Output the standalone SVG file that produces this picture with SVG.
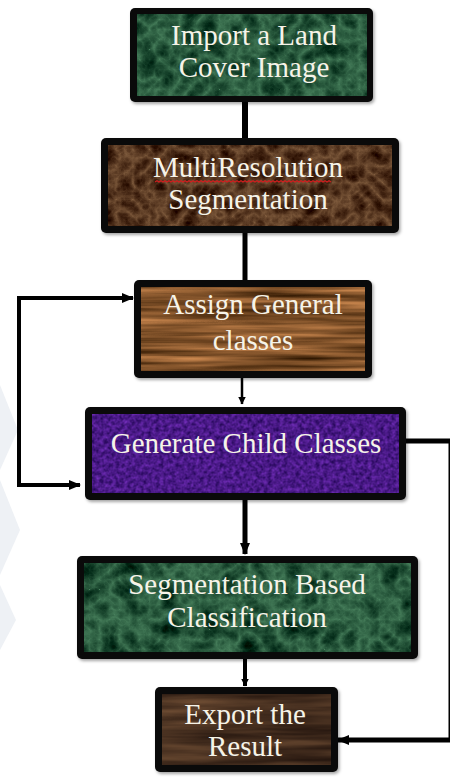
<svg xmlns="http://www.w3.org/2000/svg" width="450" height="777" viewBox="0 0 450 777">
<style>
.frame{fill:#0a0a0a;filter:url(#shadow)}
.lbl{font-family:"Liberation Serif","Times New Roman",serif;font-size:29px;fill:#f6f3e8;text-anchor:middle}
.conn{fill:none;stroke:#000;stroke-linejoin:miter}
filter{color-interpolation-filters:sRGB}
</style>
<defs>
<filter id="shadow" x="-10%" y="-10%" width="125%" height="130%" color-interpolation-filters="sRGB">
<feDropShadow dx="1.5" dy="2" stdDeviation="1.5" flood-color="#000" flood-opacity="0.35"/>
</filter>
<filter id="tGreen" x="0" y="0" width="100%" height="100%" color-interpolation-filters="sRGB">
<feTurbulence type="turbulence" baseFrequency="0.05" numOctaves="4" seed="7" result="n"/>
<feColorMatrix in="n" type="matrix" values="-0.4 0 0 0 0.28  -0.5 0 0 0 0.5  -0.4 0 0 0 0.36  0 0 0 0 1" result="c"/>
<feComposite in="c" in2="SourceAlpha" operator="in"/>
</filter>
<filter id="tBrown" x="0" y="0" width="100%" height="100%" color-interpolation-filters="sRGB">
<feTurbulence type="turbulence" baseFrequency="0.06" numOctaves="4" seed="11" result="n"/>
<feColorMatrix in="n" type="matrix" values="-0.5 0 0 0 0.5  -0.45 0 0 0 0.36  -0.35 0 0 0 0.24  0 0 0 0 1" result="c"/>
<feComposite in="c" in2="SourceAlpha" operator="in"/>
</filter>
<filter id="tWood" x="0" y="0" width="100%" height="100%" color-interpolation-filters="sRGB">
<feTurbulence type="fractalNoise" baseFrequency="0.006 0.16" numOctaves="3" seed="4" result="n"/>
<feColorMatrix in="n" type="matrix" values="0.9 0 0 0 0.06  0.65 0 0 0 0  0.45 0 0 0 -0.06  0 0 0 0 1" result="c"/>
<feComposite in="c" in2="SourceAlpha" operator="in"/>
</filter>
<filter id="tPurple" x="0" y="0" width="100%" height="100%" color-interpolation-filters="sRGB">
<feTurbulence type="fractalNoise" baseFrequency="0.25" numOctaves="3" seed="2" result="n"/>
<feColorMatrix in="n" type="matrix" values="0.4 0 0 0 0.09  0.2 0 0 0 0  0.5 0 0 0 0.28  0 0 0 0 1" result="c"/>
<feComposite in="c" in2="SourceAlpha" operator="in"/>
</filter>
<filter id="tDark" x="0" y="0" width="100%" height="100%" color-interpolation-filters="sRGB">
<feTurbulence type="fractalNoise" baseFrequency="0.008 0.12" numOctaves="3" seed="9" result="n"/>
<feColorMatrix in="n" type="matrix" values="0.4 0 0 0 0.07  0.3 0 0 0 0.03  0.2 0 0 0 0.02  0 0 0 0 1" result="c"/>
<feComposite in="c" in2="SourceAlpha" operator="in"/>
</filter>
<marker id="ah" viewBox="0 0 12 10" refX="11" refY="5" markerWidth="12" markerHeight="10" markerUnits="userSpaceOnUse" orient="auto-start-reverse">
<path d="M0,0 L12,5 L0,10 Z" fill="#000"/>
</marker>
<marker id="ahs" viewBox="0 0 8 8" refX="7.5" refY="4" markerWidth="8" markerHeight="8" markerUnits="userSpaceOnUse" orient="auto">
<path d="M0,0 L8,4 L0,8 Z" fill="#000"/>
</marker>
</defs>
<rect width="450" height="777" fill="#ffffff"/>
<g id="watermark" fill="#eef1f5">
<polygon points="0,385 18,430 0,470"/>
<polygon points="0,480 20,530 0,575"/>
<polygon points="0,585 16,620 0,650"/>
</g>
<g id="connectors">
<line class="conn" x1="245" y1="100" x2="245" y2="140" stroke-width="6"/>
<line class="conn" x1="245" y1="231" x2="245" y2="282" stroke-width="5"/>
<line class="conn" x1="242" y1="376" x2="242" y2="404" stroke-width="2.5" marker-end="url(#ahs)"/>
<path class="conn" d="M133,298 H19 V485 H80" stroke-width="4" marker-start="url(#ah)" marker-end="url(#ah)"/>
<path class="conn" d="M406,441 H451 V740 H338" stroke-width="5" marker-end="url(#ah)"/>
<line class="conn" x1="245" y1="498" x2="245" y2="554" stroke-width="5" marker-end="url(#ah)"/>
<line class="conn" x1="245" y1="657" x2="245" y2="686" stroke-width="4" marker-end="url(#ahs)"/>
</g>
<g id="n1">
<rect class="frame" x="130" y="8" width="243" height="94" rx="5"/>
<rect x="137" y="14" width="230" height="82" fill="#2a6a44" filter="url(#tGreen)"/>
<text class="lbl" x="254" y="45">Import a Land</text>
<text class="lbl" x="254" y="77">Cover Image</text>
</g>
<g id="n2">
<rect class="frame" x="101" y="138" width="298" height="95" rx="5"/>
<rect x="108" y="145" width="284" height="81" fill="#6a4428" filter="url(#tBrown)"/>
<text class="lbl" x="248" y="177">MultiResolution</text>
<path d="M155,182 l2,-1.2 2,1.2 2,-1.2 2,1.2 2,-1.2 2,1.2 2,-1.2 2,1.2 2,-1.2 2,1.2 2,-1.2 2,1.2 2,-1.2 2,1.2 2,-1.2 2,1.2 2,-1.2 2,1.2 2,-1.2 2,1.2 2,-1.2 2,1.2 2,-1.2 2,1.2 2,-1.2 2,1.2 2,-1.2 2,1.2 2,-1.2 2,1.2 2,-1.2 2,1.2 2,-1.2 2,1.2 2,-1.2 2,1.2 2,-1.2 2,1.2 2,-1.2 2,1.2 2,-1.2 2,1.2 2,-1.2 2,1.2 2,-1.2 2,1.2 2,-1.2 2,1.2 2,-1.2 2,1.2 2,-1.2 2,1.2 2,-1.2 2,1.2 2,-1.2 2,1.2 2,-1.2 2,1.2 2,-1.2 2,1.2 2,-1.2 2,1.2 2,-1.2 2,1.2 2,-1.2 2,1.2 2,-1.2 2,1.2 2,-1.2 2,1.2 2,-1.2 2,1.2 2,-1.2 2,1.2 2,-1.2 2,1.2 2,-1.2 2,1.2 2,-1.2 2,1.2 2,-1.2 2,1.2 2,-1.2 2,1.2 2,-1.2 2,1.2 2,-1.2 2,1.2" fill="none" stroke="#d02020" stroke-width="1.2"/>
<text class="lbl" x="248" y="209">Segmentation</text>
</g>
<g id="n3">
<rect class="frame" x="134" y="280" width="238" height="98" rx="5"/>
<rect x="141" y="287" width="224" height="84" fill="#a06a34" filter="url(#tWood)"/>
<text class="lbl" x="253" y="314">Assign General</text>
<text class="lbl" x="253" y="350">classes</text>
</g>
<g id="n4">
<rect class="frame" x="85" y="407" width="321" height="93" rx="5"/>
<rect x="92" y="414" width="307" height="79" fill="#4a1a8a" filter="url(#tPurple)"/>
<text class="lbl" x="246" y="453">Generate Child Classes</text>
</g>
<g id="n5">
<rect class="frame" x="77" y="556" width="341" height="103" rx="5"/>
<rect x="84" y="563" width="327" height="89" fill="#2a6a44" filter="url(#tGreen)"/>
<text class="lbl" x="247" y="594">Segmentation Based</text>
<text class="lbl" x="247" y="627">Classification</text>
</g>
<g id="n6">
<rect class="frame" x="155" y="687" width="183" height="85" rx="5"/>
<rect x="162" y="694" width="169" height="71" fill="#4a3020" filter="url(#tDark)"/>
<text class="lbl" x="245" y="724">Export the</text>
<text class="lbl" x="245" y="756">Result</text>
</g>
</svg>
